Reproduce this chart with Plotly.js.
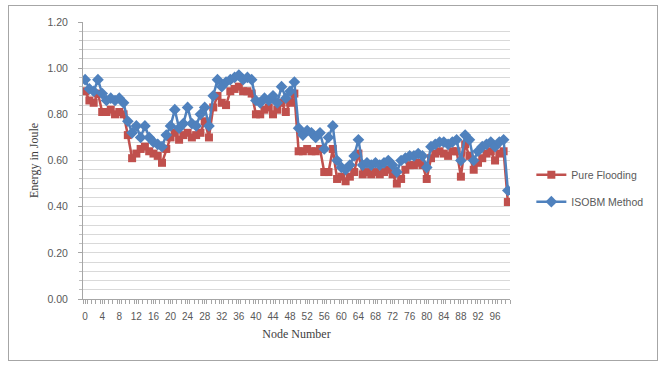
<!DOCTYPE html>
<html>
<head>
<meta charset="utf-8">
<script src="https://cdn.plot.ly/plotly-3.0.1.min.js"></script>
<style>
  html, body { margin: 0; padding: 0; background: #fff; }
  #wrap { position: relative; width: 665px; height: 368px; }
  #chart { width: 665px; height: 368px; }
  #frame { position: absolute; left: 8px; top: 5px; width: 648px; height: 354px;
           border: 1px solid #a6a6a6; pointer-events: none; }
</style>
</head>
<body>
<div id="wrap">
  <div id="chart"></div>
  <div id="frame"></div>
</div>
<script>
// Node indices 0..99
const nodes = Array.from({length: 100}, (_, i) => i);

// Remaining energy per node (Joule)
const pureFlooding = [
  0.90, 0.86, 0.85, 0.89, 0.81, 0.81, 0.82, 0.80, 0.81, 0.80,
  0.71, 0.61, 0.63, 0.65, 0.66, 0.64, 0.63, 0.62, 0.59, 0.65,
  0.70, 0.72, 0.69, 0.71, 0.72, 0.70, 0.71, 0.72, 0.77, 0.70,
  0.83, 0.88, 0.85, 0.84, 0.90, 0.91, 0.92, 0.90, 0.90, 0.89,
  0.80, 0.80, 0.82, 0.83, 0.80, 0.82, 0.85, 0.81, 0.85, 0.89,
  0.64, 0.64, 0.65, 0.64, 0.64, 0.65, 0.55, 0.55, 0.65, 0.52,
  0.53, 0.51, 0.53, 0.55, 0.63, 0.54, 0.55, 0.54, 0.55, 0.54,
  0.55, 0.56, 0.54, 0.50, 0.52, 0.56, 0.58, 0.58, 0.59, 0.58,
  0.52, 0.61, 0.63, 0.64, 0.63, 0.62, 0.64, 0.64, 0.53, 0.67,
  0.62, 0.56, 0.59, 0.61, 0.63, 0.64, 0.60, 0.63, 0.64, 0.42
];

const isobmMethod = [
  0.95, 0.91, 0.90, 0.95, 0.89, 0.86, 0.87, 0.86, 0.87, 0.85,
  0.77, 0.72, 0.75, 0.70, 0.75, 0.70, 0.68, 0.67, 0.66, 0.71,
  0.75, 0.82, 0.74, 0.76, 0.83, 0.76, 0.75, 0.80, 0.83, 0.75,
  0.88, 0.95, 0.92, 0.94, 0.95, 0.96, 0.97, 0.95, 0.96, 0.95,
  0.86, 0.85, 0.87, 0.86, 0.88, 0.85, 0.92, 0.87, 0.90, 0.94,
  0.74, 0.71, 0.73, 0.72, 0.70, 0.72, 0.65, 0.70, 0.75, 0.60,
  0.57, 0.56, 0.58, 0.62, 0.69, 0.58, 0.59, 0.58, 0.59, 0.58,
  0.59, 0.60, 0.58, 0.55, 0.60, 0.61, 0.62, 0.62, 0.63, 0.62,
  0.57, 0.66, 0.67, 0.68, 0.68, 0.67, 0.68, 0.69, 0.60, 0.71,
  0.69, 0.60, 0.64, 0.66, 0.67, 0.68, 0.66, 0.68, 0.69, 0.47
];

const seriesNames = ['Pure Flooding', 'ISOBM Method'];

const traces = [
  {
    x: nodes, y: pureFlooding, name: seriesNames[0], legendgroup: 'flood',
    type: 'scatter', mode: 'lines+markers',
    line: {color: '#C0504D', width: 2.5},
    marker: {symbol: 'square', size: 8, color: '#C0504D'}
  },
  {
    x: nodes, y: isobmMethod, name: seriesNames[1], legendgroup: 'isobm',
    type: 'scatter', mode: 'lines+markers',
    line: {color: '#4F81BD', width: 2.5},
    marker: {symbol: 'diamond', size: 9, color: '#4F81BD'}
  }
];

const layout = {
  width: 665, height: 368,
  margin: {l: 83, r: 155, t: 22, b: 69},
  paper_bgcolor: '#fff', plot_bgcolor: '#fff',
  font: {family: 'Liberation Sans, Arial, sans-serif', size: 10, color: '#595959'},
  showlegend: true,
  legend: {
    x: 1.05, xanchor: 'left', y: 0.40, yanchor: 'middle',
    traceorder: 'grouped', tracegroupgap: 8,
    font: {size: 10.5, color: '#595959'},
    itemwidth: 30, bgcolor: 'rgba(0,0,0,0)'
  },
  xaxis: {
    range: [-0.5, 99.5],
    tickmode: 'linear', tick0: 0, dtick: 4,
    ticks: 'outside', ticklen: 4, tickcolor: '#a6a6a6',
    minor: {dtick: 1, tick0: 0.5, ticks: 'outside', ticklen: 4, tickcolor: '#a6a6a6', showgrid: false},
    showgrid: false, zeroline: false,
    showline: true, linecolor: '#a6a6a6', linewidth: 1,
    ticklabelstandoff: 4,
    tickfont: {size: 10, color: '#595959'},
    title: {text: 'Node Number', standoff: 8,
            font: {family: 'Liberation Serif, Times New Roman, serif', size: 12, color: '#404040'}}
  },
  yaxis: {
    range: [0, 1.2],
    tickmode: 'linear', tick0: 0, dtick: 0.2, tickformat: '.2f',
    ticks: 'outside', ticklen: 4, tickcolor: '#a6a6a6',
    minor: {dtick: 0.04, ticks: 'outside', ticklen: 3, tickcolor: '#bfbfbf',
            showgrid: true, gridcolor: '#d9d9d9', gridwidth: 1},
    showgrid: true, gridcolor: '#d9d9d9', gridwidth: 1,
    zeroline: false,
    showline: true, linecolor: '#a6a6a6', linewidth: 1,
    ticklabelstandoff: 8,
    tickfont: {size: 10.5, color: '#595959'},
    title: {text: 'Energy in Joule', standoff: 6,
            font: {family: 'Liberation Serif, Times New Roman, serif', size: 12, color: '#404040'}}
  }
};

Plotly.newPlot('chart', traces, layout, {displayModeBar: false, staticPlot: true});
</script>
</body>
</html>
